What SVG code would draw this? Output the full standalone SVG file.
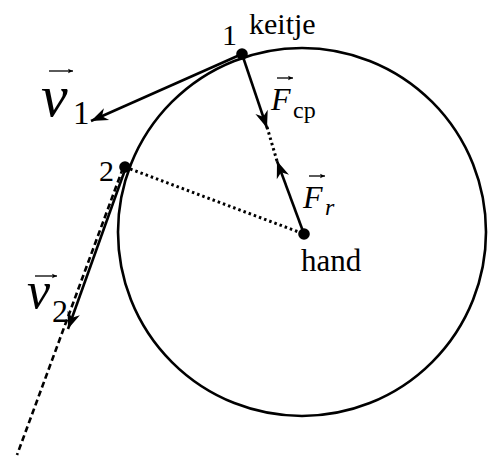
<svg xmlns="http://www.w3.org/2000/svg" width="496" height="458" viewBox="0 0 496 458">
<style>
text{font-family:'Liberation Serif','DejaVu Serif',serif;fill:#000}
.i{font-style:italic}
.ln{stroke:#000;stroke-width:2.6;fill:none}
.dot{stroke:#000;stroke-width:3;fill:none;stroke-dasharray:2.5 3}
.dash{stroke:#000;stroke-width:2.6;fill:none;stroke-dasharray:6 3.5}
.acc{stroke:#000;stroke-width:1.3;fill:none}
</style>
<defs>
<marker id="ah" markerUnits="userSpaceOnUse" markerWidth="22" markerHeight="16" viewBox="-18 -8 20 16" refX="0" refY="0" orient="auto">
<path d="M0,0 L-17,-6.5 L-12,0 L-17,6.5 Z" fill="#000"/>
</marker>
<marker id="sa" markerUnits="userSpaceOnUse" markerWidth="8" markerHeight="6" viewBox="-6 -3 7 6" refX="0" refY="0" orient="auto">
<path d="M0,0 L-5,-2.2 L-4,0 L-5,2.2 Z" fill="#000"/>
</marker>
</defs>
<g id="circle"><circle cx="302" cy="232" r="184" class="ln"/></g>
<g id="connectors">
<line class="dot" x1="125" y1="167" x2="304" y2="234"/>
<line class="dot" x1="267" y1="127" x2="277" y2="161"/>
<line class="dash" x1="123" y1="168" x2="17" y2="455"/>
<line class="ln" x1="242" y1="54" x2="91" y2="121" marker-end="url(#ah)"/>
<line class="ln" x1="242" y1="54" x2="267" y2="128" marker-end="url(#ah)"/>
<line class="ln" x1="304" y1="234" x2="277" y2="161" marker-end="url(#ah)"/>
<line class="ln" x1="126" y1="167" x2="68" y2="329" marker-end="url(#ah)"/>
</g>
<g id="keitje" font-family="Liberation Serif, serif">
<circle cx="242" cy="54" r="5.8" fill="#000"/>
<text x="222" y="45" font-size="30">1</text>
<text x="249" y="34" font-size="30">keitje</text>
</g>
<g id="point2" font-family="Liberation Serif, serif">
<circle cx="125" cy="167" r="5.8" fill="#000"/>
<text x="99" y="181" font-size="30">2</text>
</g>
<g id="hand" font-family="Liberation Serif, serif">
<circle cx="304" cy="234" r="5.8" fill="#000"/>
<text x="301" y="271" font-size="31">hand</text>
</g>
<g id="label-v1" font-family="Liberation Serif, serif">
<text class="i" x="41" y="116" font-size="60">v</text>
<text x="73" y="124" font-size="33">1</text>
<line class="acc" x1="49" y1="71" x2="73" y2="71" marker-end="url(#sa)"/>
</g>
<g id="label-fcp" font-family="Liberation Serif, serif">
<text class="i" x="271" y="110" font-size="32">F</text>
<text x="293" y="118" font-size="24">cp</text>
<line class="acc" x1="277" y1="78" x2="293" y2="78" marker-end="url(#sa)"/>
</g>
<g id="label-fr" font-family="Liberation Serif, serif">
<text class="i" x="303" y="208" font-size="32">F</text>
<text class="i" x="325" y="215" font-size="24">r</text>
<line class="acc" x1="309" y1="176" x2="325" y2="176" marker-end="url(#sa)"/>
</g>
<g id="label-v2" font-family="Liberation Serif, serif">
<text class="i" x="27" y="308" font-size="52">v</text>
<text x="52" y="322" font-size="32">2</text>
<line class="acc" x1="35" y1="276" x2="57" y2="276" marker-end="url(#sa)"/>
</g>
</svg>
